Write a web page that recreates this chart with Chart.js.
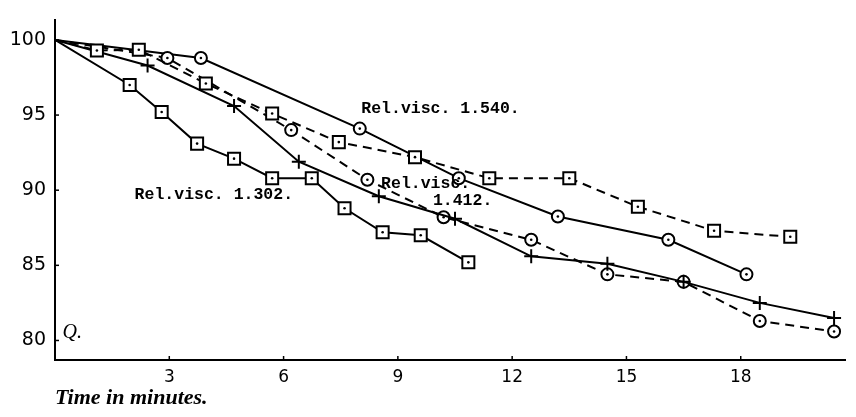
<!DOCTYPE html>
<html>
<head>
<meta charset="utf-8">
<script src="https://cdn.jsdelivr.net/npm/chart.js@4.4.1/dist/chart.umd.min.js"></script>
<style>
html,body{margin:0;padding:0;background:#fff;}
#wrap{width:856px;height:417px;position:relative;}
</style>
</head>
<body>
<div id="wrap"><canvas id="c"></canvas></div>
<script>
// ---- data ----
const xTicks = [3, 6, 9, 12, 15, 18];
const yTicks = [80, 85, 90, 95, 100];

const sqSolidX = [0, 1.96, 2.8, 3.73, 4.7, 5.7, 6.74, 7.6, 8.6, 9.6, 10.85];
const sqSolidY = [100, 97.0, 95.2, 93.1, 92.1, 90.8, 90.8, 88.8, 87.2, 87.0, 85.2];

const sqDashX = [0, 1.1, 2.2, 3.96, 5.7, 7.45, 9.45, 11.4, 13.5, 15.3, 17.3, 19.3];
const sqDashY = [100, 99.3, 99.35, 97.1, 95.1, 93.2, 92.2, 90.8, 90.8, 88.9, 87.3, 86.9];

const plusSolidX = [0, 2.43, 4.7, 6.4, 8.5, 10.5, 12.5, 14.5, 16.5, 18.5, 20.45];
const plusSolidY = [100, 98.3, 95.6, 91.9, 89.6, 88.1, 85.6, 85.1, 83.9, 82.5, 81.5];

const circDashX = [0, 2.95, 6.2, 8.2, 10.2, 12.5, 14.5, 16.5, 18.5, 20.45];
const circDashY = [100, 98.8, 94.0, 90.7, 88.2, 86.7, 84.4, 83.9, 81.3, 80.6];

const circSolidX = [0, 3.83, 8.0, 10.6, 13.2, 16.1, 18.15];
const circSolidY = [100, 98.8, 94.1, 90.8, 88.25, 86.7, 84.4];

const labels = [
  {text: 'Rel.visc. 1.540.', x: 8.04, y: 95.4},
  {text: 'Rel.visc. 1.302.', x: 2.09, y: 89.7},
  {text: 'Rel.visc.', x: 8.56, y: 90.4},
  {text: '1.412.', x: 9.92, y: 89.3}
];

function pts(xs, ys){ return xs.map((x,i)=>({x:x, y:ys[i]})); }

function ds(xs, ys, style, dashed, r){
  return {
    data: pts(xs, ys),
    borderColor: '#000',
    borderWidth: 2,
    borderDash: dashed ? [9, 6] : [],
    pointStyle: style,
    pointRadius: ctx => ctx.dataIndex === 0 ? 0 : r,
    pointBorderWidth: 2,
    pointBorderColor: '#000',
    pointBackgroundColor: '#fff',
    tension: 0,
    fill: false,
    dotCenter: style !== 'cross'
  };
}

const decor = {
  id: 'decor',
  afterDatasetsDraw(chart){
    const c = chart.ctx;
    const xs = chart.scales.x, ys = chart.scales.y;
    c.save();
    // center dots in circle / square markers
    chart.data.datasets.forEach((d, i) => {
      if (!d.dotCenter) return;
      chart.getDatasetMeta(i).data.forEach((p, j) => {
        if (j === 0) return;
        c.fillStyle = '#000';
        c.beginPath();
        c.arc(p.x, p.y, 1.3, 0, Math.PI*2);
        c.fill();
      });
    });
    // small inside tick marks
    c.strokeStyle = '#000';
    c.lineWidth = 1.5;
    const ax = chart.chartArea;
    xTicks.forEach(v => {
      const px = xs.getPixelForValue(v);
      c.beginPath(); c.moveTo(px, ax.bottom); c.lineTo(px, ax.bottom - 4); c.stroke();
    });
    yTicks.forEach(v => {
      const py = ys.getPixelForValue(v);
      c.beginPath(); c.moveTo(ax.left, py); c.lineTo(ax.left + 4, py); c.stroke();
    });
    // curve labels
    c.fillStyle = '#000';
    c.font = 'bold 16.5px "Liberation Mono", "DejaVu Sans Mono", monospace';
    c.textBaseline = 'middle';
    c.textAlign = 'left';
    labels.forEach(l => {
      c.fillText(l.text, xs.getPixelForValue(l.x), ys.getPixelForValue(l.y));
    });
    // handwritten mark
    c.font = 'italic 20px "Liberation Serif", serif';
    c.fillText('Q.', xs.getPixelForValue(0.2), ys.getPixelForValue(80.5));
    c.restore();
  }
};

new Chart(document.getElementById('c'), {
  type: 'line',
  data: {
    datasets: [
      ds(sqSolidX, sqSolidY, 'rect', false, 8.5),
      ds(sqDashX, sqDashY, 'rect', true, 8.5),
      ds(plusSolidX, plusSolidY, 'cross', false, 7),
      ds(circDashX, circDashY, 'circle', true, 6),
      ds(circSolidX, circSolidY, 'circle', false, 6)
    ]
  },
  options: {
    responsive: true,
    maintainAspectRatio: false,
    animation: false,
    layout: {padding: {left: 0, right: 6, top: 12, bottom: 0}},
    plugins: {legend: {display: false}, tooltip: {enabled: false}},
    scales: {
      x: {
        type: 'linear',
        min: 0, max: 20.75,
        grid: {display: false, drawTicks: false},
        border: {display: true, color: '#000', width: 2},
        afterBuildTicks: s => { s.ticks = xTicks.map(v => ({value: v})); },
        afterFit: s => { s.height = 57; },
        ticks: {color: '#000', padding: 7, font: {family: '"DejaVu Sans", sans-serif', size: 17}},
        title: {display: true, text: 'Time in minutes.', align: 'start', color: '#000',
                font: {family: '"Liberation Serif", serif', size: 22, style: 'italic', weight: 'bold'},
                padding: {top: 0, bottom: 5}}
      },
      y: {
        type: 'linear',
        min: 78.7, max: 101.3,
        grid: {display: false, drawTicks: false},
        border: {display: true, color: '#000', width: 2},
        afterBuildTicks: s => { s.ticks = yTicks.map(v => ({value: v})); },
        afterFit: s => { s.width = 55; },
        ticks: {color: '#000', padding: 9, font: {family: '"DejaVu Sans", sans-serif', size: 19}}
      }
    }
  },
  plugins: [decor]
});
</script>
</body>
</html>
